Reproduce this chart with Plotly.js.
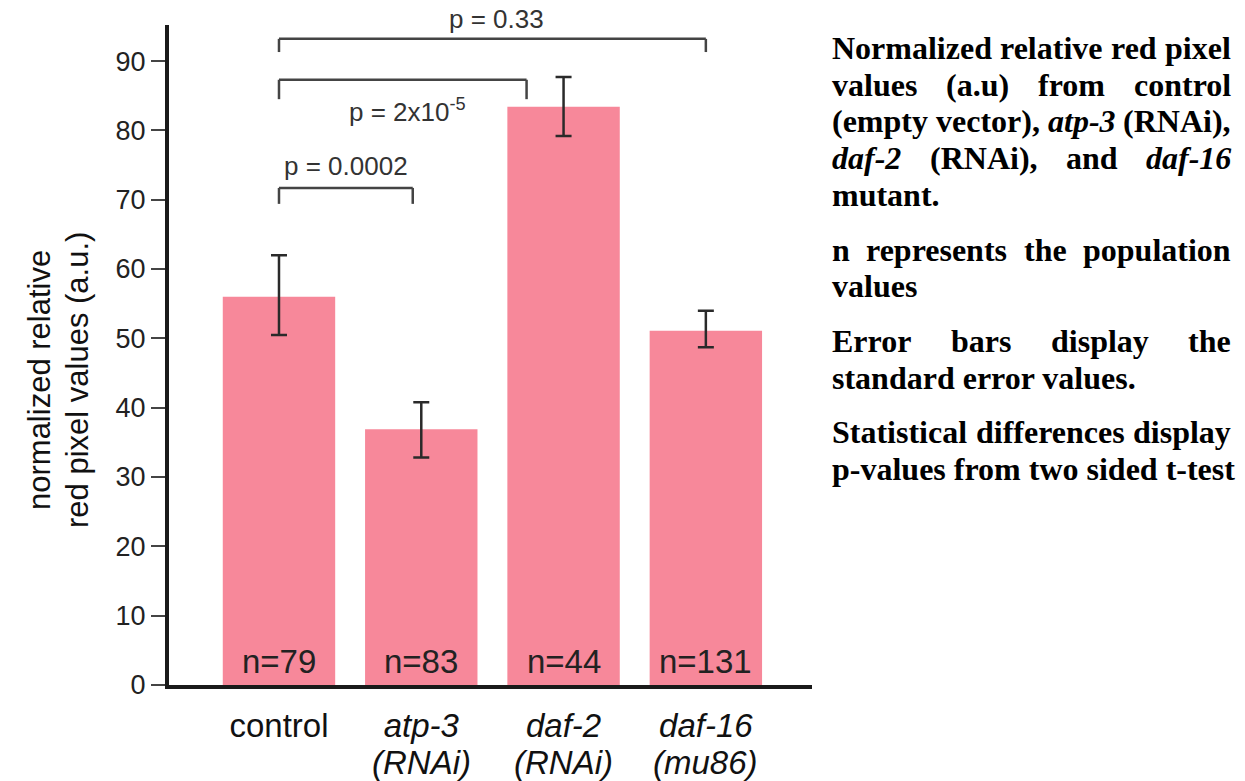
<!DOCTYPE html>
<html>
<head>
<meta charset="utf-8">
<script src="https://cdn.plot.ly/plotly-3.0.1.min.js"></script>
<style>html,body{margin:0;padding:0;background:#fff;}#chart{width:1245px;height:781px;}</style>
</head>
<body>
<div id="chart"></div>
<script>
// ---------------- data ----------------
const categories = ["control", "atp-3", "daf-2", "daf-16"];
const subLabels = ["", "(RNAi)", "(RNAi)", "(mu86)"];
const italicNames = [false, true, true, true];
const means = [56.0, 36.9, 83.4, 51.1];
const errPlus = [6.0, 3.9, 4.3, 2.9];
const errMinus = [5.5, 4.1, 4.2, 2.4];
const nValues = [79, 83, 44, 131];
const pLabels = ["p = 0.0002", "p = 2x10<sup>-5</sup>", "p = 0.33"];
const yTickVals = [0, 10, 20, 30, 40, 50, 60, 70, 80, 90];
const yTitleLines = ["normalized relative", "red pixel values (a.u.)"];
const noteParagraphs = [
  ["Normalized relative red pixel", "values (a.u) from control", "(empty vector), <i>atp-3</i> (RNAi),", "<i>daf-2</i> (RNAi), and <i>daf-16</i>", "mutant."],
  ["n represents the population", "values"],
  ["Error bars display the", "standard error values."],
  ["Statistical differences display", "p-values from two sided t-test"]
];

// ---------------- geometry / style ----------------
const W = 1245, H = 781;
const M = {l: 169, r: 433, t: 25, b: 96};
const plotW = W - M.l - M.r, plotH = H - M.t - M.b;
const yMax = 95.2;
const sans = "Liberation Sans, Arial, Helvetica, sans-serif";
const serif = "Liberation Serif, Times New Roman, serif";
const pxToPaperX = px => (px - M.l) / plotW;
const pxToPaperY = py => (H - M.b - py) / plotH;

// bracket geometry (positions in axis units)
const brackets = [
  {from: 0, to: 0.94, top: 71.7, bottom: 69.4, lx: 0.474, ly: 74.9},
  {from: 0, to: 1.74, top: 87.3, bottom: 84.5, lx: 0.90, ly: 82.9},
  {from: 0, to: 3.0, top: 93.2, bottom: 91.3, lx: 1.53, ly: 96.0}
];

const xIdx = categories.map((c, i) => i);
const tickText = categories.map((c, i) => italicNames[i] ? "<i>" + c + "</i>" : c);

const trace = {
  type: "bar",
  x: xIdx,
  y: means,
  width: 0.79,
  marker: {color: "#f7889a", line: {width: 0}},
  error_y: {type: "data", symmetric: false, array: errPlus, arrayminus: errMinus,
            color: "#2a2a2a", thickness: 2.5, width: 8},
  hoverinfo: "none"
};

const shapes = [];
const annotations = [];
const lineStyle = {color: "#444", width: 2.5};
brackets.forEach((b, i) => {
  shapes.push({type: "line", xref: "x", yref: "y", x0: b.from, x1: b.to, y0: b.top, y1: b.top, line: lineStyle});
  shapes.push({type: "line", xref: "x", yref: "y", x0: b.from, x1: b.from, y0: b.top, y1: b.bottom, line: lineStyle});
  shapes.push({type: "line", xref: "x", yref: "y", x0: b.to, x1: b.to, y0: b.top, y1: b.bottom, line: lineStyle});
  // label placed in paper units (derived from the y-axis scale) so it may sit above the plot area
  annotations.push({xref: "x", yref: "paper", x: b.lx, y: b.ly / yMax, text: pLabels[i], showarrow: false,
    xanchor: "center", yanchor: "middle", font: {family: sans, size: 26, color: "#333"}});
});

// n labels inside bars
nValues.forEach((n, i) => {
  annotations.push({xref: "x", yref: "y", x: i, y: 3.4, text: "n=" + n, showarrow: false,
    xanchor: "center", yanchor: "middle", font: {family: sans, size: 33, color: "#222"}});
});

// second line of x labels
subLabels.forEach((s, i) => {
  if (!s) return;
  annotations.push({xref: "x", yref: "paper", x: i, y: 0, yshift: -77, text: "<i>" + s + "</i>", showarrow: false,
    xanchor: "center", yanchor: "middle", font: {family: sans, size: 33, color: "#111"}});
});

// y-axis title lines
const yTitleX = [39, 77];
yTitleLines.forEach((t, i) => {
  annotations.push({xref: "paper", yref: "paper", x: pxToPaperX(yTitleX[i]), y: pxToPaperY(380), text: t,
    textangle: -90, showarrow: false, xanchor: "center", yanchor: "middle",
    font: {family: sans, size: 31, color: "#111"}});
});

// justified side note
const cnv = document.createElement("canvas");
const ctx = cnv.getContext("2d");
const noteSize = 32;
function wordWidth(w) {
  const it = /<i>/.test(w);
  const plain = w.replace(/<\/?i>/g, "");
  ctx.font = (it ? "italic " : "") + "bold " + noteSize + "px 'Liberation Serif'";
  return ctx.measureText(plain).width;
}
const noteL = 832, noteR = 1231;
const lineGap = 36.7, paraGap = 18;
let cy = 48;
noteParagraphs.forEach((para, pi) => {
  para.forEach((line, li) => {
    const last = li === para.length - 1;
    if (last) {
      annotations.push({xref: "paper", yref: "paper", x: pxToPaperX(noteL), y: pxToPaperY(cy), text: line,
        showarrow: false, xanchor: "left", yanchor: "middle", borderpad: 0, borderwidth: 0,
        font: {family: serif, size: noteSize, color: "#000", weight: "bold"}});
    } else {
      const words = line.split(" ");
      const ws = words.map(wordWidth);
      const total = ws.reduce((a, b) => a + b, 0);
      const gap = (noteR - noteL - total) / (words.length - 1);
      let x = noteL;
      words.forEach((w, wi) => {
        annotations.push({xref: "paper", yref: "paper", x: pxToPaperX(x), y: pxToPaperY(cy), text: w,
          showarrow: false, xanchor: "left", yanchor: "middle", borderpad: 0, borderwidth: 0,
          font: {family: serif, size: noteSize, color: "#000", weight: "bold"}});
        x += ws[wi] + gap;
      });
    }
    cy += lineGap;
  });
  cy += paraGap;
});

const layout = {
  width: W, height: H,
  margin: M,
  paper_bgcolor: "#fff", plot_bgcolor: "#fff",
  showlegend: false,
  font: {family: sans, color: "#111"},
  xaxis: {
    type: "linear",
    range: [-0.773, 3.746],
    tickvals: xIdx, ticktext: tickText,
    showline: true, linecolor: "#1a1a1a", linewidth: 4,
    ticks: "", showgrid: false, zeroline: false,
    tickfont: {family: sans, size: 33, color: "#111"},
    ticklabelstandoff: 8,
    fixedrange: true
  },
  yaxis: {
    range: [0, yMax],
    tickvals: yTickVals,
    showline: true, linecolor: "#1a1a1a", linewidth: 4,
    ticks: "outside", ticklen: 14, tickwidth: 2, tickcolor: "#444",
    showgrid: false, zeroline: false,
    tickfont: {family: sans, size: 27, color: "#222"},
    ticklabelstandoff: 0,
    fixedrange: true
  },
  shapes: shapes,
  annotations: annotations
};

Plotly.newPlot("chart", [trace], layout, {staticPlot: true, displayModeBar: false});
</script>
</body>
</html>
